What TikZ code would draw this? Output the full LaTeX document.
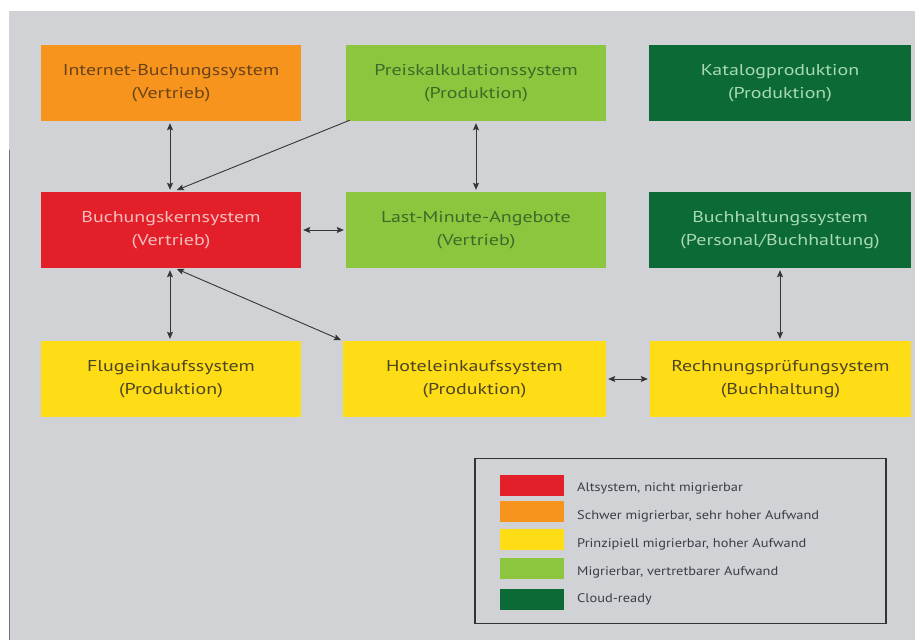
\documentclass[tikz,border=0pt]{standalone}
\usepackage{fontspec}
\setmainfont{PT Sans}[FakeStretch=1.27]
\newfontfamily\legfont{PT Sans}[FakeStretch=1.15]
\usetikzlibrary{arrows.meta}
\definecolor{bggrey}{HTML}{D1D2D5}
\definecolor{cred}{HTML}{E3202A}
\definecolor{corange}{HTML}{F7941D}
\definecolor{cyellow}{HTML}{FEDD17}
\definecolor{clgreen}{HTML}{8CC63F}
\definecolor{cdgreen}{HTML}{0B6A36}
\definecolor{tred}{HTML}{F7BDBD}
\definecolor{torange}{HTML}{6A4418}
\definecolor{tyellow}{HTML}{4E4522}
\definecolor{tlgreen}{HTML}{3E6A28}
\definecolor{tdgreen}{HTML}{A9D9B3}
\definecolor{arrcol}{HTML}{353535}
\definecolor{legtext}{HTML}{3C3C48}
\tikzset{
  sysbox/.style={minimum width=260pt, minimum height=76pt, inner sep=0pt, align=center,
    font=\fontsize{15.7}{23}\selectfont},
  arr/.style={draw=arrcol, line width=0.9pt, shorten >=2pt, shorten <=2pt,
    {Stealth[length=7pt,width=6pt,inset=1.2pt]}-{Stealth[length=7pt,width=6pt,inset=1.2pt]}},
  arrone/.style={draw=arrcol, line width=0.9pt, shorten >=2pt,
    -{Stealth[length=7pt,width=6pt,inset=1.2pt]}},
  swatch/.style={minimum width=64pt, minimum height=21pt, inner sep=0pt},
  legtxt/.style={anchor=base west, inner sep=0pt, text=legtext, font=\legfont\fontsize{12.5}{14}\selectfont}
}
\begin{document}
\begin{tikzpicture}[x=1pt,y=-1pt]
\useasboundingbox (0,0) rectangle (915,640);
\fill[white] (0,0) rectangle (915,640);
\fill[bggrey] (9,11) rectangle (915,640);
\draw[line width=1.2pt, black!55] (9.6,150) -- (9.6,640);

% row 1
\node[sysbox, fill=corange, text=torange] (inet) at (171,83) {Internet-Buchungssystem\\(Vertrieb)};
\node[sysbox, fill=clgreen, text=tlgreen] (preis) at (476,83) {Preiskalkulationssystem\\(Produktion)};
\node[sysbox, fill=cdgreen, text=tdgreen, minimum width=262pt] (katalog) at (780,83) {Katalogproduktion\\(Produktion)};
% row 2
\node[sysbox, fill=cred, text=tred] (kern) at (171,230) {Buchungskernsystem\\(Vertrieb)};
\node[sysbox, fill=clgreen, text=tlgreen] (last) at (476,230) {Last-Minute-Angebote\\(Vertrieb)};
\node[sysbox, fill=cdgreen, text=tdgreen, minimum width=262pt] (buchh) at (780,230) {Buchhaltungssystem\\(Personal/Buchhaltung)};
% row 3
\node[sysbox, fill=cyellow, text=tyellow] (flug) at (171,379) {Flugeinkaufssystem\\(Produktion)};
\node[sysbox, fill=cyellow, text=tyellow, minimum width=263pt] (hotel) at (474.5,379) {Hoteleinkaufssystem\\(Produktion)};
\node[sysbox, fill=cyellow, text=tyellow, minimum width=261pt] (rech) at (780.5,379) {Rechnungsprüfungsystem\\(Buchhaltung)};

% connectors
\draw[arr] ([xshift=-1pt]inet.south) -- ([xshift=-1pt]kern.north);
\draw[arrone] ([xshift=4pt,yshift=1pt]preis.south west) -- ([xshift=4pt,yshift=1pt]kern.north);
\draw[arr] (preis.south) -- (last.south |- last.north);
\draw[arr] (kern.east) -- (last.west);
\draw[arr] ([xshift=-1pt]kern.south) -- ([xshift=-1pt]flug.north);
\draw[arr] ([xshift=4pt]kern.south) -- (hotel.north west);
\draw[arr] (hotel.east) -- (rech.west);
\draw[arr] (buchh.south) -- (buchh.south |- rech.north);

% legend
\node[draw=black!80, line width=1.8pt, minimum width=411pt, minimum height=165pt, inner sep=0pt] (legend) at (680.5,541) {};
\node[swatch, fill=cred] (s1) at (532,485.5) {};
\node[swatch, fill=corange] (s2) at (532,511.5) {};
\node[swatch, fill=cyellow] (s3) at (532,539) {};
\node[swatch, fill=clgreen] (s4) at (532,568.5) {};
\node[swatch, fill=cdgreen] (s5) at (532,599) {};
\node[legtxt] (l1) at (577,491) {Altsystem, nicht migrierbar};
\node[legtxt] (l2) at (577,519.5) {Schwer migrierbar, sehr hoher Aufwand};
\node[legtxt] (l3) at (577,547) {Prinzipiell migrierbar, hoher Aufwand};
\node[legtxt] (l4) at (577,575) {Migrierbar, vertretbarer Aufwand};
\node[legtxt] (l5) at (577,602) {Cloud-ready};
\end{tikzpicture}
\end{document}
